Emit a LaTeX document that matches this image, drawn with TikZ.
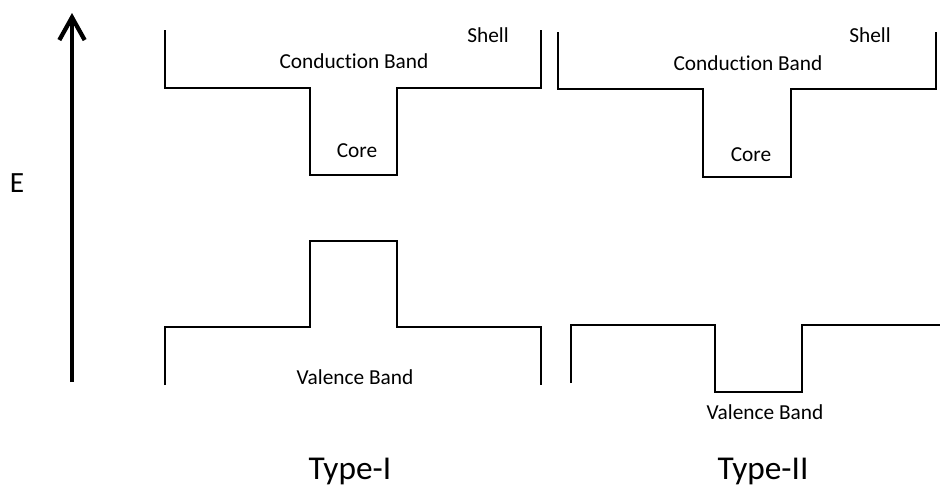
\documentclass[tikz,border=0pt]{standalone}
\usepackage{fontspec}
\setmainfont{Carlito}[Ligatures=NoCommon]
\usetikzlibrary{arrows.meta}
\begin{document}
\begin{tikzpicture}[x=0.75pt,y=-0.75pt,
  band/.style={line width=1.3pt,line join=miter},
  lbl/.style={font=\fontsize{16}{18}\selectfont,anchor=base,inner sep=0pt},
  big/.style={font=\fontsize{25}{28}\selectfont,anchor=base,inner sep=0pt},
  axis/.style={line width=3.2pt,-{Straight Barb[length=17pt,width=19pt,line width=3.2pt]}}]
\useasboundingbox (0,0) rectangle (940,487);
% energy axis
\coordinate (ab) at (72,382);
\coordinate (at) at (72,13);
\draw[axis] (ab) -- (at);
\node[big,font=\fontsize{22}{26}\selectfont] (E) at (17,192) {E};
% Type-I conduction
\draw[band] (165,30) -- (165,88) -- (310,88) -- (310,175) -- (397,175) -- (397,88) -- (541,88) -- (541,30);
% Type-I valence
\draw[band] (165,385) -- (165,327) -- (310,327) -- (310,241) -- (397,241) -- (397,327) -- (541,327) -- (541,385);
% Type-II conduction
\draw[band] (558,32) -- (558,89) -- (703,89) -- (703,177) -- (791,177) -- (791,89) -- (936,89) -- (936,32);
% Type-II valence
\draw[band] (571,383) -- (571,325) -- (715,325) -- (715,392) -- (802,392) -- (802,325) -- (942,325);
% labels
\node[lbl] (cb1) at (354,68) {Conduction Band};
\node[lbl] (sh1) at (488,42) {Shell};
\node[lbl] (co1) at (357,157) {Core};
\node[lbl] (vb1) at (355,384) {Valence Band};
\node[lbl] (cb2) at (748,70) {Conduction Band};
\node[lbl] (sh2) at (870,42) {Shell};
\node[lbl] (co2) at (751,161) {Core};
\node[lbl] (vb2) at (765,419) {Valence Band};
\node[big] (t1) at (350,479) {Type-I};
\node[big] (t2) at (763,479) {Type-II};
\end{tikzpicture}
\end{document}
